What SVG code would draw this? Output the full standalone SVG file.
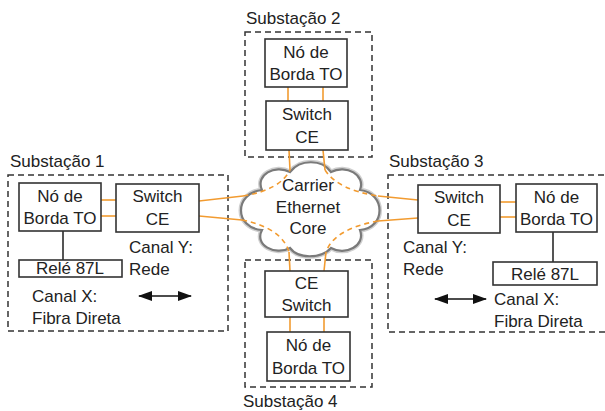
<svg xmlns="http://www.w3.org/2000/svg" width="605" height="411" viewBox="0 0 605 411">
<style>
text{font-family:"Liberation Sans",Arial,sans-serif;font-size:17px;fill:#222}
.c{text-anchor:middle}
.box{fill:#fff;stroke:#333;stroke-width:1.6}
.sub{fill:none;stroke:#333;stroke-width:1.5;stroke-dasharray:6 4}
.or{fill:none;stroke:#f29b30;stroke-width:1.6}
.ord{fill:none;stroke:#f29b30;stroke-width:1.6;stroke-dasharray:5 4}
.gl{stroke:#555;stroke-width:2}
</style>
<defs>
<marker id="ah" viewBox="0 0 14 10" refX="13" refY="5" markerWidth="14" markerHeight="10" markerUnits="userSpaceOnUse" orient="auto-start-reverse">
<path d="M0,0 L14,5 L0,10 z" fill="#111"/>
</marker>
</defs>

<g id="substacao1">
<rect class="sub" x="8" y="175" width="220" height="156"/>
<text x="10" y="167">Substação 1</text>
</g>
<g id="substacao2">
<rect class="sub" x="245" y="32" width="127" height="125"/>
<text x="246" y="24">Substação 2</text>
</g>
<g id="substacao3">
<rect class="sub" x="388" y="175" width="225" height="157"/>
<text x="389" y="167">Substação 3</text>
</g>
<g id="substacao4">
<rect class="sub" x="245" y="260" width="127" height="127"/>
<text x="243" y="407">Substação 4</text>
</g>

<g id="cloud">
<path d="M262,190 C255,175 275,164 290,172 C300,159 322,159 331,172 C346,164 366,175 360,190 C386,193 386,228 360,230 C366,246 345,256 331,248 C321,259 298,259 290,248 C275,256 254,245 262,230 C234,228 234,193 262,190 Z" fill="#fff" stroke="#cfcfcf" stroke-width="5"/>
<path d="M262,190 C255,175 275,164 290,172 C300,159 322,159 331,172 C346,164 366,175 360,190 C386,193 386,228 360,230 C366,246 345,256 331,248 C321,259 298,259 290,248 C275,256 254,245 262,230 C234,228 234,193 262,190 Z" fill="#fff" stroke="#7a7a7a" stroke-width="2.2"/>
</g>

<g id="connectors">
<line class="or" x1="101" y1="200" x2="116" y2="200"/>
<line class="or" x1="101" y1="216" x2="116" y2="216"/>
<line class="or" x1="500" y1="202" x2="516" y2="202"/>
<line class="or" x1="500" y1="217" x2="516" y2="217"/>
<line class="or" x1="288" y1="87" x2="288" y2="101"/>
<line class="or" x1="323" y1="87" x2="323" y2="101"/>
<line class="or" x1="290" y1="317" x2="290" y2="332"/>
<line class="or" x1="324" y1="317" x2="324" y2="332"/>
<line class="gl" x1="63" y1="231" x2="63" y2="260"/>
<line class="gl" x1="553" y1="232" x2="553" y2="262"/>
<path class="or" d="M199,201 L243,196"/>
<path class="ord" d="M243,196 Q280,190 290,170"/>
<path class="or" d="M290,170 L289,150"/>
<path class="or" d="M323,150 L325,170"/>
<path class="ord" d="M325,170 Q338,190 378,196"/>
<path class="or" d="M378,196 L418,200"/>
<path class="or" d="M199,216 L242,220"/>
<path class="ord" d="M242,220 Q282,228 289,252"/>
<path class="or" d="M289,252 L290,271"/>
<path class="or" d="M418,218 L378,221"/>
<path class="ord" d="M378,221 Q334,229 326,252"/>
<path class="or" d="M326,252 L324,271"/>
<line x1="139" y1="296" x2="191" y2="296" stroke="#111" stroke-width="1.6" marker-start="url(#ah)" marker-end="url(#ah)"/>
<line x1="435" y1="299" x2="486" y2="299" stroke="#111" stroke-width="1.6" marker-start="url(#ah)" marker-end="url(#ah)"/>
</g>

<text class="c" x="308" y="191">Carrier</text>
<text class="c" x="308" y="213">Ethernet</text>
<text class="c" x="308" y="234">Core</text>

<g id="no1">
<rect class="box" x="19" y="183" width="82" height="48"/>
<text class="c" x="60" y="202">Nó de</text>
<text class="c" x="60" y="224">Borda TO</text>
</g>
<g id="switch1">
<rect class="box" x="116" y="184" width="83" height="48"/>
<text class="c" x="157.5" y="202">Switch</text>
<text class="c" x="157.5" y="225">CE</text>
</g>
<g id="rele1">
<rect class="box" x="19" y="260" width="103" height="17"/>
<text class="c" x="70" y="274">Relé 87L</text>
</g>
<text x="129" y="253">Canal Y:</text>
<text x="129" y="275">Rede</text>
<text x="32" y="302">Canal X:</text>
<text x="32" y="324">Fibra Direta</text>

<g id="no2">
<rect class="box" x="265" y="39" width="82" height="48"/>
<text class="c" x="306" y="58">Nó de</text>
<text class="c" x="306" y="80">Borda TO</text>
</g>
<g id="switch2">
<rect class="box" x="266" y="101" width="82" height="49"/>
<text class="c" x="307" y="120">Switch</text>
<text class="c" x="307" y="143">CE</text>
</g>

<g id="switch3">
<rect class="box" x="418" y="185" width="82" height="48"/>
<text class="c" x="459" y="203">Switch</text>
<text class="c" x="459" y="226">CE</text>
</g>
<g id="no3">
<rect class="box" x="516" y="184" width="81" height="48"/>
<text class="c" x="556.5" y="203">Nó de</text>
<text class="c" x="556.5" y="225">Borda TO</text>
</g>
<g id="rele3">
<rect class="box" x="493" y="262" width="104" height="23"/>
<text class="c" x="545" y="280">Relé 87L</text>
</g>
<text x="403" y="253">Canal Y:</text>
<text x="403" y="275">Rede</text>
<text x="494" y="305">Canal X:</text>
<text x="494" y="327">Fibra Direta</text>

<g id="switch4">
<rect class="box" x="265" y="271" width="83" height="46"/>
<text class="c" x="306.5" y="289">CE</text>
<text class="c" x="306.5" y="311">Switch</text>
</g>
<g id="no4">
<rect class="box" x="267" y="332" width="83" height="49"/>
<text class="c" x="308.5" y="351">Nó de</text>
<text class="c" x="308.5" y="374">Borda TO</text>
</g>
</svg>
